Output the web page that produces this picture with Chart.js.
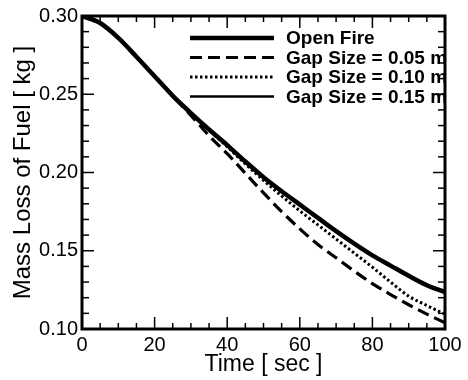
<!DOCTYPE html>
<html>
<head>
<meta charset="utf-8">
<script src="https://cdn.jsdelivr.net/npm/chart.js@4/dist/chart.umd.min.js"></script>
<style>
html,body{margin:0;padding:0;background:#fff;}
#wrap{width:468px;height:380px;}
</style>
</head>
<body>
<div id="wrap"><canvas id="c" width="468" height="380"></canvas></div>
<script>
const timeSec = [0,5,10,15,20,25,30,35,40,45,50,55,60,65,70,75,80,85,90,95,100];
const openFire = [0.300,0.2955,0.286,0.274,0.2615,0.249,0.238,0.2275,0.2175,0.207,0.197,0.188,0.1795,0.171,0.1625,0.1545,0.147,0.1405,0.134,0.128,0.1235];
const gap005   = [0.300,0.2955,0.286,0.274,0.2615,0.249,0.2365,0.2235,0.212,0.1995,0.187,0.175,0.164,0.154,0.1455,0.137,0.129,0.122,0.1155,0.1095,0.104];
const gap010   = [0.300,0.2955,0.286,0.274,0.2615,0.249,0.238,0.227,0.2165,0.2055,0.195,0.185,0.1755,0.1665,0.1575,0.1485,0.1395,0.130,0.121,0.115,0.1095];
const gap015   = [0.300,0.2955,0.286,0.274,0.2615,0.249,0.238,0.2275,0.2175,0.207,0.197,0.188,0.1795,0.171,0.1625,0.1545,0.147,0.1405,0.134,0.128,0.1238];
const seriesLabels = ['Open Fire','Gap Size = 0.05 m','Gap Size = 0.10 m','Gap Size = 0.15 m'];
const xMajorTicks = [0,20,40,60,80,100];
const xMinorTicks = [0,5,10,15,20,25,30,35,40,45,50,55,60,65,70,75,80,85,90,95,100];
const yMajorTicks = [0.10,0.15,0.20,0.25,0.30];
const yMinorTicks = [0.10,0.11,0.12,0.13,0.14,0.15,0.16,0.17,0.18,0.19,0.20,0.21,0.22,0.23,0.24,0.25,0.26,0.27,0.28,0.29,0.30];
const xTitle = 'Time [ sec ]';
const yTitle = 'Mass Loss of Fuel [ kg ]';

const toPts = arr => timeSec.map((t,i)=>({x:t,y:arr[i]}));
const styles = [
  {borderWidth:4.5, borderDash:[], cap:'butt'},
  {borderWidth:3.2, borderDash:[12,6], cap:'butt'},
  {borderWidth:3, borderDash:[2.5,2.5], cap:'butt'},
  {borderWidth:2.5, borderDash:[], cap:'butt'}
];
const seriesData = [openFire,gap005,gap010,gap015];
const FONT = '"Liberation Sans", Arial, sans-serif';

const frameTicks = {
  id:'frameTicks',
  afterDatasetsDraw(chart){
    const {ctx, chartArea:a, scales:{x,y}} = chart;
    ctx.save();
    ctx.strokeStyle='#000';
    ctx.lineWidth=1.5;
    const ln=(x1,y1,x2,y2)=>{ctx.beginPath();ctx.moveTo(x1,y1);ctx.lineTo(x2,y2);ctx.stroke();};
    xMinorTicks.forEach(v=>{
      const px=x.getPixelForValue(v);
      const len=xMajorTicks.includes(v)?12:6;
      ln(px,a.bottom,px,a.bottom-len);
      ln(px,a.top,px,a.top+len);
    });
    yMinorTicks.forEach(v=>{
      const py=y.getPixelForValue(v);
      const len=yMajorTicks.some(m=>Math.abs(m-v)<1e-9)?12:7;
      ln(a.left,py,a.left+len,py);
      ln(a.right,py,a.right-len,py);
    });
    ctx.lineWidth=3;
    ctx.strokeRect(a.left,a.top,a.right-a.left,a.bottom-a.top);
    // legend
    const x0=a.left+108, x1=a.left+192, tx=a.left+204;
    chart.data.datasets.forEach((ds,i)=>{
      const yy=a.top+22+i*19.5;
      ctx.lineWidth=ds.borderWidth;
      ctx.setLineDash(ds.borderDash||[]);
      ln(x0,yy,x1,yy);
      ctx.setLineDash([]);
      ctx.fillStyle='#000';
      ctx.font='bold 19px '+FONT;
      ctx.textBaseline='middle';
      ctx.textAlign='left';
      ctx.fillText(ds.label,tx,yy+1);
    });
    ctx.restore();
  }
};

new Chart(document.getElementById('c'),{
  type:'line',
  data:{
    datasets: seriesData.map((arr,i)=>({
      label:seriesLabels[i],
      data:toPts(arr),
      borderColor:'#000',
      backgroundColor:'#000',
      borderWidth:styles[i].borderWidth,
      borderDash:styles[i].borderDash,
      borderCapStyle:styles[i].cap,
      pointRadius:0,
      fill:false,
      cubicInterpolationMode:'monotone'
    }))
  },
  options:{
    responsive:false,
    animation:false,
    layout:{padding:{left:0,right:23,top:13,bottom:0}},
    plugins:{legend:{display:false},tooltip:{enabled:false}},
    scales:{
      x:{
        type:'linear',min:0,max:100,
        afterBuildTicks:s=>{s.ticks=xMajorTicks.map(v=>({value:v}));},
        afterFit:s=>{s.height=51;},
        grid:{display:false,drawTicks:false},
        border:{display:false},
        ticks:{color:'#000',padding:4,font:{family:FONT,size:20},maxRotation:0},
        title:{display:true,text:xTitle,color:'#000',font:{family:FONT,size:23},padding:{top:0,bottom:2}}
      },
      y:{
        type:'linear',min:0.10,max:0.30,
        afterBuildTicks:s=>{s.ticks=yMajorTicks.map(v=>({value:v}));},
        afterFit:s=>{s.width=82;},
        grid:{display:false,drawTicks:false},
        border:{display:false},
        ticks:{color:'#000',padding:4,font:{family:FONT,size:20},callback:v=>Number(v).toFixed(2)},
        title:{display:true,text:yTitle,color:'#000',font:{family:FONT,size:24},padding:{top:9,bottom:0}}
      }
    }
  },
  plugins:[frameTicks]
});
</script>
</body>
</html>
